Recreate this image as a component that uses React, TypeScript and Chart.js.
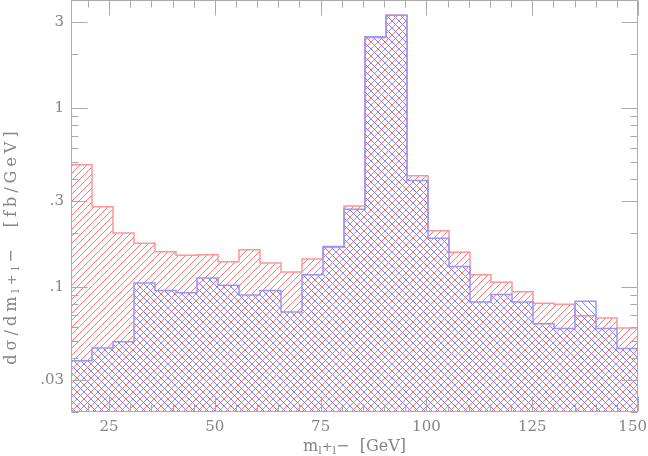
import React, { useEffect, useRef } from 'react';
import { Chart, registerables } from 'chart.js';

Chart.register(...registerables);

// ---- data ----
const X_MIN = 16;
const X_MAX = 150;
const N_BINS = 27;

// series drawn with "/" hatch (light red)
const redValues = [
  0.48, 0.28, 0.2, 0.175, 0.157, 0.15, 0.151, 0.138, 0.161, 0.136,
  0.121, 0.143, 0.166, 0.283, 2.46, 3.29, 0.417, 0.206, 0.156, 0.117,
  0.106, 0.094, 0.081, 0.08, 0.069, 0.067, 0.059,
];
// series drawn with "\" hatch (light blue)
const blueValues = [
  0.0387, 0.0456, 0.0493, 0.105, 0.0954, 0.0927, 0.112, 0.102, 0.09, 0.0954,
  0.0723, 0.117, 0.168, 0.271, 2.49, 3.29, 0.393, 0.187, 0.13, 0.0822,
  0.0906, 0.0822, 0.0623, 0.0585, 0.0832, 0.0585, 0.0453,
];

const Y_MIN = 0.02;
const Y_MAX = 4;

const xTickValues = [25, 50, 75, 100, 125, 150];
const xTickLabels = ['25', '50', '75', '100', '125', '150'];
const xMinorTicks = [20, 30, 35, 40, 45, 55, 60, 65, 70, 80, 85, 90, 95, 105, 110, 115, 120, 130, 135, 140, 145];

const yTickValues = [0.03, 0.1, 0.3, 1, 3];
const yTickLabels = ['.03', '.1', '.3', '1', '3'];
const yMinorTicks = [0.02, 0.04, 0.05, 0.06, 0.07, 0.08, 0.09, 0.2, 0.4, 0.5, 0.6, 0.7, 0.8, 0.9, 2, 4];

const FONT = '"DejaVu Serif", serif';
const TEXT_COLOR = '#858585';
const FRAME_COLOR = '#ababab';

function toSteps(values: number[]) {
  const w = (X_MAX - X_MIN) / N_BINS;
  const pts = values.map((v, i) => ({ x: X_MIN + i * w, y: v }));
  pts.push({ x: X_MAX, y: values[values.length - 1] });
  return pts;
}

function makeHatch(color: string, dir: '/' | '\\', p: number): CanvasPattern | string {
  const c = document.createElement('canvas');
  c.width = p;
  c.height = p;
  const g = c.getContext('2d');
  if (!g) return color;
  g.strokeStyle = color;
  g.lineWidth = 1;
  g.beginPath();
  if (dir === '/') {
    g.moveTo(0, p); g.lineTo(p, 0);
    g.moveTo(-1, 1); g.lineTo(1, -1);
    g.moveTo(p - 1, p + 1); g.lineTo(p + 1, p - 1);
  } else {
    g.moveTo(0, 0); g.lineTo(p, p);
    g.moveTo(-1, p - 1); g.lineTo(1, p + 1);
    g.moveTo(p - 1, -1); g.lineTo(p + 1, 1);
  }
  g.stroke();
  const pat = g.createPattern(c, 'repeat');
  return pat || color;
}

type Part = { t: string; s: number; dy: number };

function titleParts(prefix: string, suffix: string): Part[] {
  return [
    { t: prefix + 'm', s: 16, dy: 0 },
    { t: 'l', s: 11, dy: 3 },
    { t: '+', s: 13, dy: 0 },
    { t: 'l', s: 11, dy: 3 },
    { t: '\u2212', s: 16, dy: 0 },
    { t: '  ' + suffix, s: 16, dy: 0 },
  ];
}

function drawRich(ctx: CanvasRenderingContext2D, parts: Part[], cx: number, baseline: number, spacing: number) {
  const c: any = ctx;
  c.letterSpacing = `${spacing}px`;
  let total = 0;
  const widths = parts.map((p) => {
    ctx.font = `${p.s}px ${FONT}`;
    const w = ctx.measureText(p.t).width;
    total += w;
    return w;
  });
  let x = cx - total / 2;
  ctx.textAlign = 'left';
  ctx.textBaseline = 'alphabetic';
  parts.forEach((p, i) => {
    ctx.font = `${p.s}px ${FONT}`;
    ctx.fillText(p.t, x, baseline + p.dy);
    x += widths[i];
  });
  c.letterSpacing = '0px';
}

const framePlugin = {
  id: 'frameTicks',
  afterDraw(chart: any) {
    const { ctx, chartArea, scales } = chart;
    const { left, right, top, bottom } = chartArea;
    const xs = scales.x;
    const ys = scales.y;
    ctx.save();
    ctx.strokeStyle = FRAME_COLOR;
    ctx.lineWidth = 1;
    ctx.strokeRect(left + 0.5, top + 0.5, right - left - 1, bottom - top - 1);

    const L = left + 0.5;
    const R = right - 0.5;
    const T = top + 0.5;
    const B = bottom - 0.5;
    ctx.beginPath();
    const xTick = (v: number, len: number) => {
      const px = Math.round(xs.getPixelForValue(v)) + 0.5;
      ctx.moveTo(px, B); ctx.lineTo(px, B - len);
      ctx.moveTo(px, T); ctx.lineTo(px, T + len);
    };
    const yTick = (v: number, len: number) => {
      const py = Math.round(ys.getPixelForValue(v)) + 0.5;
      ctx.moveTo(L, py); ctx.lineTo(L + len, py);
      ctx.moveTo(R, py); ctx.lineTo(R - len, py);
    };
    xTickValues.forEach((v) => xTick(v, 15));
    xMinorTicks.forEach((v) => xTick(v, 7));
    yTickValues.forEach((v) => yTick(v, 16));
    yMinorTicks.forEach((v) => yTick(v, 7));
    ctx.stroke();

    // x tick labels
    ctx.fillStyle = TEXT_COLOR;
    ctx.font = `15px ${FONT}`;
    ctx.textAlign = 'center';
    ctx.textBaseline = 'alphabetic';
    const W = chart.width;
    xTickValues.forEach((v, i) => {
      const lab = xTickLabels[i];
      const w = ctx.measureText(lab).width;
      let px = xs.getPixelForValue(v);
      px = Math.min(px, W - w / 2 - 1);
      ctx.fillText(lab, px, bottom + 19);
    });

    // axis titles
    drawRich(ctx, titleParts('', '[GeV]'), (left + right) / 2, 451, 0);
    ctx.save();
    ctx.translate(16, 246);
    ctx.rotate(-Math.PI / 2);
    drawRich(ctx, titleParts('d\u03c3/d', '[fb/GeV]'), 0, 0, 4);
    ctx.restore();
    ctx.restore();
  },
};

export default function App() {
  const ref = useRef<HTMLCanvasElement | null>(null);

  useEffect(() => {
    document.body.style.margin = '0';
    const canvas = ref.current;
    if (!canvas) return;
    const redPat = makeHatch('rgb(255,120,120)', '/', 7);
    const bluePat = makeHatch('rgb(125,125,255)', '\\', 7);

    const chart = new Chart(canvas, {
      type: 'line',
      data: {
        datasets: [
          {
            label: 'red',
            data: toSteps(redValues),
            stepped: 'before',
            borderColor: 'rgb(255,150,150)',
            borderWidth: 1.5,
            backgroundColor: redPat as any,
            fill: 'start',
            pointRadius: 0,
            order: 2,
          },
          {
            label: 'blue',
            data: toSteps(blueValues),
            stepped: 'before',
            borderColor: 'rgb(150,150,255)',
            borderWidth: 1.5,
            backgroundColor: bluePat as any,
            fill: 'start',
            pointRadius: 0,
            order: 1,
          },
        ],
      },
      options: {
        animation: false,
        responsive: false,
        devicePixelRatio: 1,
        layout: { padding: { left: 0, right: 10, top: 0, bottom: 0 }, autoPadding: false },
        plugins: { legend: { display: false }, tooltip: { enabled: false } },
        scales: {
          x: {
            type: 'linear',
            min: X_MIN,
            max: X_MAX,
            grid: { display: false, drawTicks: false },
            border: { display: false },
            ticks: { display: false },
            afterFit: (s: any) => {
              s.height = 44;
              s.paddingLeft = 0; s.paddingRight = 0; s.paddingTop = 0; s.paddingBottom = 0;
            },
          },
          y: {
            type: 'logarithmic',
            min: Y_MIN,
            max: Y_MAX,
            grid: { display: false, drawTicks: false },
            border: { display: false },
            afterBuildTicks: (s: any) => { s.ticks = yTickValues.map((v) => ({ value: v })); },
            afterFit: (s: any) => {
              s.width = 71;
              s.paddingLeft = 0; s.paddingRight = 0; s.paddingTop = 0; s.paddingBottom = 0;
            },
            ticks: {
              autoSkip: false,
              padding: 7,
              color: TEXT_COLOR,
              font: { family: 'DejaVu Serif', size: 15 },
              callback: (_v: any, i: number) => yTickLabels[i],
            },
          },
        },
      },
      plugins: [framePlugin],
    });
    return () => chart.destroy();
  }, []);

  return <canvas ref={ref} width={648} height={456} style={{ display: 'block' }} />;
}
